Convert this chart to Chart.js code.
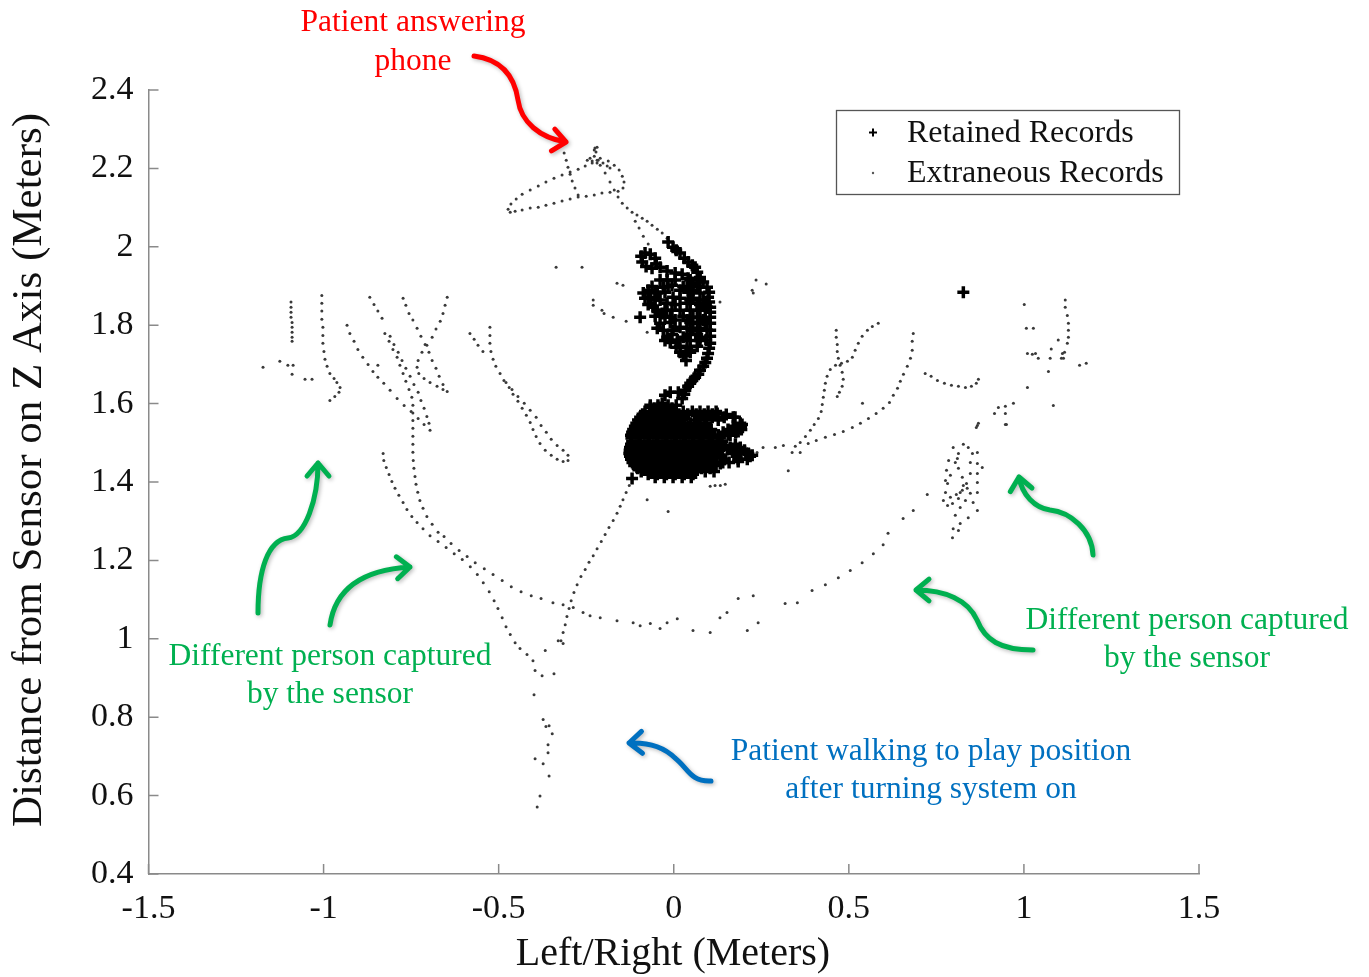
<!DOCTYPE html>
<html><head><meta charset="utf-8">
<script src="https://cdn.jsdelivr.net/npm/chart.js@4.4.0/dist/chart.umd.min.js"></script>
<style>html,body{margin:0;padding:0;background:#fff;}canvas{display:block;}</style>
</head><body>
<canvas id="c" width="1369" height="977"></canvas>
<script>
// ---------- axis ticks ----------
const xTickValues = [-1.5,-1,-0.5,0,0.5,1,1.5];
const xTickLabels = ['-1.5','-1','-0.5','0','0.5','1','1.5'];
const yTickValues = [0.4,0.6,0.8,1,1.2,1.4,1.6,1.8,2,2.2,2.4];
const yTickLabels = ['0.4','0.6','0.8','1','1.2','1.4','1.6','1.8','2','2.2','2.4'];
const seriesNames = ['Retained Records','Extraneous Records'];

// ---------- Retained Records ----------
const retainedUpper = [
[-0.016,2.012],[0.007,1.991],[-0.002,1.999],[0.018,1.984],[0.030,1.971],[0.041,1.961],[0.053,1.953],[0.061,1.948],[0.067,1.935],[0.075,1.922],[0.084,1.910],[0.095,1.897],[0.101,1.884],[0.098,1.871],[0.101,1.859],[0.104,1.846],[0.104,1.833],[0.104,1.820],[0.104,1.805],[0.104,1.787],[0.104,1.772],[0.104,1.754],[0.101,1.741],[0.098,1.728],[0.095,1.716],[0.090,1.705],[0.084,1.695],[0.075,1.685],[0.070,1.675],[0.061,1.667],[0.053,1.659],[0.047,1.652],[0.041,1.644],[0.033,1.634],[0.030,1.624],[0.024,1.613],[0.013,1.629],[-0.010,1.629],[-0.025,1.621],[-0.033,1.601],
[-0.093,1.976],[-0.082,1.984],[-0.067,1.981],[-0.053,1.971],[-0.050,1.956],[-0.062,1.945],[-0.079,1.950],[-0.090,1.961],[-0.039,1.948],[-0.019,1.938],[0.004,1.933],[0.024,1.930],[0.041,1.920],[0.055,1.907],
[-0.087,1.882],[-0.067,1.871],[-0.047,1.882],[-0.030,1.897],[-0.019,1.915],[-0.039,1.864],[-0.019,1.856],[-0.002,1.871],[0.018,1.889],[0.038,1.897],[0.055,1.889],[0.075,1.882],[-0.059,1.846],[-0.033,1.830],[-0.010,1.820],[0.018,1.838],[0.038,1.856],[0.067,1.856],[0.084,1.864],[0.095,1.846],[-0.039,1.805],[-0.030,1.787],[-0.019,1.769],[-0.002,1.787],[0.018,1.795],[0.038,1.813],[0.055,1.820],[0.075,1.820],[0.010,1.762],[0.027,1.769],[0.055,1.787],[0.075,1.769],[0.095,1.787],[0.038,1.744],[0.027,1.723],[0.035,1.710],[0.047,1.736],[0.007,1.744],[-0.010,1.756],[-0.053,1.864],[-0.073,1.889],[-0.025,1.838],[0.004,1.813],[0.047,1.838],[0.067,1.805],[-0.005,1.902],[0.047,1.864],[0.018,1.731],[0.084,1.813],[0.093,1.762]
];
// extra records filling the dense upper mass: [y, x1, x2, ...]
const retainedUpperRows = [
[1.915,-0.039,0.004,0.047,0.075],
[1.899,-0.062,-0.016,0.027,0.067],
[1.884,-0.053,-0.025,0.041],
[1.869,-0.082,0.018,0.055],
[1.853,-0.073,0.004,0.075],
[1.838,-0.047,-0.005,0.067,0.090],
[1.823,-0.053,-0.025,0.027],
[1.807,-0.010,0.047,0.090],
[1.792,-0.047,0.038,0.075],
[1.777,-0.005,0.047,0.067],
[1.761,-0.025,0.047,0.075],
[1.746,0.018,0.067],
[1.731,0.047]
];
// rows of the dense lower cluster: [y, x1, x2, ...]
const retainedLowerRows = [
[1.596,-0.067,-0.045,-0.016,0.007],
[1.588,-0.056,-0.030,-0.005],
[1.580,-0.082,-0.053,-0.030,-0.005,0.027,0.053,0.075,0.098,0.121],
[1.573,-0.089,-0.063,-0.038,-0.012,0.015,0.040,0.064,0.087,0.110],
[1.565,-0.096,-0.073,-0.047,-0.022,0.004,0.030,0.075,0.110,0.144,0.170],
[1.558,-0.102,-0.077,-0.052,-0.027,-0.001,0.024,0.060,0.092,0.127],
[1.550,-0.107,-0.082,-0.059,-0.033,-0.007,0.018,0.047,0.070,0.093,0.190],
[1.542,-0.111,-0.087,-0.063,-0.038,-0.012,0.014,0.041,0.066,0.089,0.170,0.192],
[1.534,-0.116,-0.093,-0.067,-0.042,-0.016,0.010,0.035,0.061,0.084,0.107,0.155,0.193],
[1.527,-0.119,-0.096,-0.070,-0.046,-0.020,0.005,0.031,0.057,0.080,0.104,0.141,0.177],
[1.519,-0.122,-0.099,-0.073,-0.050,-0.025,0.001,0.027,0.053,0.075,0.101,0.127,0.161],
[1.512,-0.121,-0.097,-0.072,-0.047,-0.022,0.004,0.030,0.055,0.080,0.106,0.132],
[1.504,-0.119,-0.096,-0.070,-0.045,-0.019,0.007,0.033,0.058,0.084,0.110,0.138],
[1.496,-0.122,-0.099,-0.073,-0.047,-0.022,0.004,0.030,0.056,0.081,0.107,0.136,0.176],
[1.488,-0.125,-0.102,-0.076,-0.050,-0.025,0.001,0.027,0.053,0.078,0.104,0.133,0.161,0.190],
[1.481,-0.126,-0.103,-0.078,-0.052,-0.026,0.000,0.026,0.052,0.077,0.103,0.130,0.168,0.202],
[1.473,-0.127,-0.105,-0.079,-0.053,-0.027,-0.002,0.024,0.050,0.075,0.101,0.127,0.175,0.213],
[1.466,-0.125,-0.100,-0.075,-0.049,-0.023,0.003,0.028,0.054,0.080,0.106,0.136,0.180,0.218],
[1.458,-0.122,-0.096,-0.070,-0.045,-0.019,0.007,0.033,0.058,0.084,0.110,0.144,0.184],
[1.450,-0.118,-0.092,-0.066,-0.040,-0.015,0.011,0.037,0.063,0.089,0.115,0.140],
[1.442,-0.113,-0.087,-0.062,-0.036,-0.010,0.015,0.041,0.067,0.093,0.121],
[1.435,-0.103,-0.077,-0.052,-0.026,0.000,0.025,0.051,0.079,0.104],
[1.427,-0.093,-0.067,-0.042,-0.016,0.010,0.035,0.061,0.090,0.115],
[1.420,-0.073,-0.047,-0.021,0.004,0.030,0.055],
[1.412,-0.053,-0.027,-0.002,0.024,0.050]
];
const retainedLoops = [
[0.124,1.575],[0.150,1.572],[0.175,1.565],[0.195,1.547],[0.184,1.529],[0.155,1.521],[0.127,1.519],[0.098,1.527],
[0.124,1.488],[0.153,1.483],[0.181,1.478],[0.207,1.473],[0.224,1.468],[0.210,1.458],[0.184,1.452],[0.158,1.450],[0.133,1.447],[0.107,1.445],
[-0.039,1.583],[-0.067,1.590],[-0.105,1.539],[-0.119,1.409],[-0.096,1.820],[0.827,1.884]
];

// ---------- Extraneous Records ----------
const extPhone = [
[-0.313,2.239],[-0.307,2.221],[-0.302,2.203],[-0.296,2.185],[-0.290,2.168],[-0.282,2.150],[-0.273,2.132],
[-0.210,2.226],[-0.187,2.219],[-0.170,2.208],[-0.156,2.196],[-0.147,2.180],[-0.142,2.165],[-0.145,2.150],[-0.159,2.142],[-0.182,2.139],[-0.205,2.137],[-0.227,2.132],[-0.250,2.129],[-0.273,2.127],[-0.296,2.122],[-0.319,2.117],[-0.342,2.111],[-0.365,2.106],[-0.387,2.101],[-0.410,2.099],[-0.433,2.094],[-0.453,2.091],[-0.467,2.088],[-0.473,2.096],[-0.465,2.109],[-0.450,2.122],[-0.433,2.134],[-0.410,2.145],[-0.387,2.155],[-0.365,2.165],[-0.342,2.175],[-0.319,2.183],[-0.296,2.191],[-0.273,2.198],[-0.253,2.206],[-0.233,2.214],[-0.219,2.221],
[-0.225,2.252],[-0.222,2.242],[-0.227,2.231],[-0.239,2.226],[-0.247,2.221],[-0.233,2.219],[-0.216,2.221],[-0.202,2.214],[-0.190,2.206],[-0.182,2.201],[-0.210,2.208],[-0.219,2.214],[-0.227,2.247],[-0.219,2.254],
[-0.196,2.188],[-0.182,2.165],[-0.170,2.145],[-0.159,2.127],[-0.147,2.111],[-0.133,2.099],[-0.119,2.088],[-0.105,2.081],[-0.090,2.073],[-0.076,2.065],[-0.062,2.055],[-0.047,2.045],[-0.033,2.035],[-0.019,2.022],
[-0.110,2.065],[-0.099,2.048],[-0.087,2.027],[-0.073,2.007]
];
const extScatter = [
[-0.336,1.948],[-0.262,1.948],[-0.162,1.907],[-0.145,1.902],[-0.230,1.864],[-0.230,1.851],[-0.205,1.838],[-0.199,1.830],[-0.173,1.820],[-0.136,1.810],[-0.076,1.782],[0.235,1.915],[0.264,1.905],[0.224,1.889],[0.227,1.882],[0.132,1.859],
[0.104,1.389],[0.118,1.391],[0.133,1.391],[0.147,1.394],[-0.076,1.355],[-0.016,1.325],
[0.238,1.475],[0.255,1.488],[0.290,1.488],[0.313,1.493]
];
const extLeft = [
[-1.093,1.859],[-1.093,1.846],[-1.093,1.833],[-1.093,1.820],[-1.090,1.807],[-1.090,1.795],[-1.090,1.782],[-1.090,1.769],[-1.090,1.759],
[-1.173,1.693],[-1.125,1.708],[-1.102,1.698],[-1.087,1.698],[-1.090,1.675],[-1.053,1.662],[-1.033,1.662],
[-1.005,1.876],[-1.005,1.856],[-1.005,1.836],[-1.005,1.815],[-1.002,1.795],[-1.002,1.774],[-1.002,1.754],[-0.999,1.733],[-0.996,1.713],[-0.990,1.695],[-0.982,1.677],[-0.970,1.664],[-0.962,1.654],[-0.953,1.641],[-0.956,1.629],[-0.968,1.618],[-0.982,1.608],
[-0.933,1.800],[-0.925,1.779],[-0.913,1.759],[-0.902,1.738],[-0.888,1.718],[-0.873,1.700],[-0.859,1.682],[-0.845,1.667],[-0.828,1.652],[-0.810,1.634],[-0.790,1.613],[-0.770,1.595],[-0.750,1.580],[-0.730,1.562],[-0.713,1.547],[-0.696,1.532],[-0.845,1.698],
[-0.868,1.871],[-0.856,1.853],[-0.845,1.836],[-0.833,1.818],
[-0.825,1.779],[-0.813,1.759],[-0.802,1.738],[-0.790,1.718],[-0.782,1.698],[-0.773,1.677],[-0.765,1.657],[-0.756,1.636],[-0.748,1.616],[-0.745,1.596],[-0.745,1.576],[-0.745,1.557],[-0.745,1.537],[-0.745,1.517],[-0.745,1.496],[-0.745,1.476],[-0.744,1.455],[-0.742,1.435],[-0.739,1.414],[-0.736,1.394],[-0.731,1.374],[-0.725,1.353],[-0.716,1.333],[-0.705,1.312],[-0.690,1.292],[-0.673,1.272],[-0.656,1.261],[-0.636,1.243],[-0.613,1.225],[-0.590,1.210],[-0.567,1.194],[-0.541,1.179],[-0.516,1.164],[-0.490,1.149],[-0.464,1.133],[-0.436,1.120],[-0.407,1.110],[-0.379,1.103],
[-0.810,1.772],[-0.799,1.751],[-0.787,1.731],[-0.776,1.710],[-0.765,1.690],[-0.753,1.670],[-0.742,1.649],[-0.730,1.629],[-0.722,1.608],[-0.713,1.588],[-0.705,1.567],[-0.699,1.550],
[-0.525,1.795],[-0.525,1.774],[-0.525,1.754],[-0.522,1.733],[-0.516,1.713],[-0.508,1.695],[-0.496,1.677],[-0.485,1.659],[-0.470,1.641],[-0.459,1.624],[-0.445,1.606],[-0.433,1.588],[-0.421,1.570],[-0.410,1.552],[-0.402,1.534],[-0.393,1.516],[-0.382,1.498],[-0.367,1.481],[-0.350,1.468],[-0.333,1.458],[-0.316,1.452],[-0.302,1.455],[-0.302,1.468],[-0.316,1.481],[-0.333,1.493],[-0.350,1.509],[-0.364,1.527],[-0.379,1.544],[-0.393,1.565],[-0.410,1.583],[-0.427,1.601],[-0.445,1.618],[-0.462,1.636],[-0.479,1.654],
[-0.582,1.779],[-0.570,1.764],[-0.559,1.749],[-0.545,1.733],
[-0.773,1.869],[-0.765,1.851],[-0.756,1.830],[-0.745,1.813],[-0.733,1.792],[-0.722,1.772],[-0.710,1.751],[-0.699,1.731],[-0.690,1.710],[-0.679,1.690],[-0.670,1.670],[-0.659,1.649],[-0.647,1.631],
[-0.647,1.871],[-0.653,1.851],[-0.659,1.830],[-0.667,1.810],[-0.679,1.790],[-0.690,1.769],[-0.705,1.749],[-0.719,1.731],[-0.730,1.710],[-0.733,1.693],[-0.728,1.677],[-0.713,1.664],[-0.696,1.654],[-0.676,1.644],[-0.659,1.636],
[-0.830,1.473],[-0.828,1.455],[-0.821,1.437],[-0.813,1.419],[-0.805,1.401],[-0.796,1.384],[-0.785,1.366],[-0.773,1.348],[-0.762,1.330],[-0.748,1.312],[-0.733,1.297],[-0.716,1.281],[-0.696,1.263],[-0.673,1.248],[-0.650,1.233],[-0.627,1.217],[-0.604,1.202],[-0.581,1.184],[-0.561,1.164],[-0.544,1.143],[-0.527,1.120],[-0.513,1.097],[-0.502,1.077],[-0.490,1.054],[-0.479,1.031],[-0.467,1.011],[-0.453,0.990],[-0.439,0.975],[-0.419,0.960],[-0.402,0.944]
];
const extCenter = [
[-0.127,1.391],[-0.136,1.373],[-0.145,1.355],[-0.153,1.338],[-0.162,1.320],[-0.173,1.302],[-0.185,1.284],[-0.196,1.266],[-0.207,1.248],[-0.219,1.230],[-0.230,1.212],[-0.242,1.195],[-0.253,1.177],[-0.265,1.159],[-0.276,1.138],[-0.285,1.118],[-0.293,1.097],[-0.299,1.077],[-0.305,1.057],[-0.310,1.036],[-0.316,1.016],[-0.322,0.995],
[-0.396,0.919],[-0.376,0.906],[-0.367,0.970],[-0.342,0.911],[-0.399,0.857],[-0.373,0.794],[-0.365,0.776],[-0.356,0.778],[-0.347,0.758],[-0.359,0.730],[-0.359,0.709],[-0.396,0.694],[-0.373,0.681],[-0.356,0.650],[-0.382,0.599],[-0.390,0.571],[-0.330,0.995],[-0.316,0.988],
[-0.345,1.092],[-0.316,1.087],[-0.287,1.080],[-0.259,1.067],[-0.239,1.059],[-0.210,1.054],[-0.162,1.046],[-0.116,1.041],[-0.096,1.033],[-0.067,1.039],[-0.039,1.026],[-0.019,1.041],[0.010,1.051],[0.055,1.021],[0.104,1.016],[0.132,1.054],[0.152,1.067],[0.184,1.103],[0.227,1.110],[0.210,1.021],[0.241,1.041],[0.318,1.090],[0.353,1.092],
[0.395,1.123],[0.433,1.138],[0.470,1.156],[0.504,1.174],[0.538,1.194],[0.570,1.217],[0.598,1.240],[0.612,1.269],[0.655,1.307],[0.684,1.327],[0.724,1.368],
[0.539,1.601],[0.327,1.429]
];
const extRight = [
[0.464,1.787],[0.464,1.769],[0.467,1.751],[0.467,1.733],[0.470,1.716],[0.475,1.698],[0.481,1.680],[0.484,1.662],[0.481,1.644],[0.473,1.629],[0.467,1.618],
[0.584,1.805],[0.567,1.797],[0.553,1.787],[0.538,1.772],[0.527,1.754],[0.518,1.736],[0.510,1.718],[0.496,1.708],[0.479,1.703],[0.462,1.698],[0.447,1.687],[0.438,1.670],[0.433,1.652],[0.430,1.634],[0.427,1.616],[0.424,1.598],[0.421,1.580],[0.413,1.562],[0.401,1.547],[0.390,1.532],[0.376,1.516],[0.361,1.501],[0.347,1.491],[0.338,1.475],[0.361,1.475],
[0.684,1.779],[0.681,1.759],[0.681,1.736],[0.676,1.716],[0.667,1.695],[0.656,1.675],[0.647,1.657],[0.639,1.639],[0.627,1.621],[0.616,1.603],[0.598,1.588],[0.578,1.575],[0.556,1.562],[0.533,1.550],[0.510,1.539],[0.484,1.529],[0.459,1.521],[0.433,1.514],[0.407,1.506],[0.384,1.498],
[0.718,1.677],[0.735,1.670],[0.753,1.659],[0.773,1.652],[0.793,1.647],[0.813,1.644],[0.833,1.641],[0.850,1.644],[0.864,1.652],[0.870,1.662],
[1.001,1.853],[1.118,1.864],[1.118,1.846],[1.124,1.825],[1.127,1.805],[1.127,1.787],[1.127,1.769],[1.124,1.754],[1.007,1.792],[1.027,1.792],[1.098,1.762],[1.078,1.739],[1.010,1.728],[1.024,1.726],[1.033,1.728],[1.041,1.716],[1.075,1.716],[1.107,1.716],[1.113,1.716],[1.110,1.728],[1.116,1.731],[1.159,1.698],[1.178,1.703],[1.070,1.682],[1.010,1.641],[1.084,1.595],[0.970,1.601],[0.947,1.593],[0.927,1.590],[0.916,1.575],[0.947,1.575],[0.947,1.547],[0.870,1.550],[0.864,1.539],
[0.867,1.544],[0.950,1.547],[0.798,1.488],[0.827,1.496],[0.841,1.488],[0.813,1.473],[0.853,1.473],[0.867,1.475],[0.804,1.450],[0.813,1.435],[0.847,1.450],[0.867,1.447],[0.881,1.437],[0.790,1.417],[0.824,1.412],[0.847,1.422],[0.867,1.422],[0.782,1.396],[0.827,1.391],[0.838,1.384],[0.867,1.399],[0.776,1.373],[0.818,1.373],[0.847,1.371],[0.867,1.373],[0.770,1.353],[0.796,1.345],[0.813,1.358],[0.833,1.353],[0.855,1.348],[0.782,1.340],[0.818,1.335],[0.867,1.327],[0.804,1.315],[0.841,1.309],[0.818,1.294],[0.798,1.281],[0.813,1.276],[0.796,1.258],
[0.785,1.455],[0.779,1.430],[0.776,1.404],[0.790,1.361],[0.807,1.368],[0.824,1.379],[0.836,1.396],[0.810,1.460]
];

// ---------- build datasets ----------
const SERIF = "'Liberation Serif','Times New Roman',serif";
const toPts = a => a.map(([x,y]) => ({x, y}));
const rowPts = rows => rows.flatMap(([y, ...xs]) => xs.map(x => ({x, y})));
const retainedData = [...toPts(retainedUpper), ...rowPts(retainedUpperRows), ...rowPts(retainedLowerRows), ...toPts(retainedLoops)];
const extraneousData = [...toPts(extPhone), ...toPts(extScatter), ...toPts(extLeft), ...toPts(extCenter), ...toPts(extRight)];

const AXIS_COLOR = '#8a8a8a';

const inwardTicks = {
  id: 'inwardTicks',
  afterDraw(chart) {
    const {ctx, chartArea: a, scales: {x, y}} = chart;
    ctx.save();
    ctx.strokeStyle = AXIS_COLOR; ctx.lineWidth = 1.5;
    ctx.beginPath();
    xTickValues.forEach(v => { const p = x.getPixelForValue(v); ctx.moveTo(p, a.bottom); ctx.lineTo(p, a.bottom - 10); });
    yTickValues.forEach(v => { const p = y.getPixelForValue(v); ctx.moveTo(a.left, p); ctx.lineTo(a.left + 10, p); });
    ctx.stroke();
    ctx.restore();
  }
};

function drawArrow(ctx, segs, color) {
  ctx.save();
  ctx.strokeStyle = color; ctx.lineWidth = 5; ctx.lineCap = 'round'; ctx.lineJoin = 'round';
  ctx.shadowColor = 'rgba(0,0,0,0.28)'; ctx.shadowBlur = 4; ctx.shadowOffsetX = 1.5; ctx.shadowOffsetY = 1.5;
  ctx.beginPath();
  ctx.moveTo(segs[0][0], segs[0][1]);
  for (let i = 1; i < segs.length; i += 3) ctx.bezierCurveTo(segs[i][0], segs[i][1], segs[i+1][0], segs[i+1][1], segs[i+2][0], segs[i+2][1]);
  const e = segs[segs.length-1], c = segs[segs.length-2];
  const ang = Math.atan2(e[1]-c[1], e[0]-c[0]);
  const L = 17, sp = 0.7;
  ctx.moveTo(e[0] - L*Math.cos(ang - sp), e[1] - L*Math.sin(ang - sp));
  ctx.lineTo(e[0], e[1]);
  ctx.lineTo(e[0] - L*Math.cos(ang + sp), e[1] - L*Math.sin(ang + sp));
  ctx.stroke();
  ctx.restore();
}

const annotations = {
  id: 'annotations',
  afterDraw(chart) {
    const ctx = chart.ctx;
    ctx.save();
    ctx.textAlign = 'center'; ctx.textBaseline = 'middle';
    ctx.fillStyle = '#111';
    ctx.font = `40px ${SERIF}`;
    ctx.fillText('Left/Right (Meters)', 673, 954);
    ctx.save(); ctx.translate(30, 470); ctx.rotate(-Math.PI/2);
    ctx.font = `43px ${SERIF}`;
    ctx.fillText('Distance from Sensor on Z Axis (Meters)', 0, 0);
    ctx.restore();
    ctx.font = `31.5px ${SERIF}`;
    ctx.fillStyle = '#FF0000';
    ctx.fillText('Patient answering', 413, 23); ctx.fillText('phone', 413, 62);
    ctx.fillStyle = '#00B050';
    ctx.fillText('Different person captured', 330, 657); ctx.fillText('by the sensor', 330, 695);
    ctx.fillText('Different person captured', 1187, 621); ctx.fillText('by the sensor', 1187, 659);
    ctx.fillStyle = '#0070C0';
    ctx.fillText('Patient walking to play position', 931, 752); ctx.fillText('after turning system on', 931, 790);
    ctx.restore();
    drawArrow(ctx, [[474,56],[505,60],[515,80],[518,100],[521,122],[540,138],[566,142]], '#FF0000');
    drawArrow(ctx, [[258,613],[258,570],[268,540],[288,538],[305,536],[318,500],[318,463]], '#00B050');
    drawArrow(ctx, [[330,625],[335,590],[360,570],[410,567]], '#00B050');
    drawArrow(ctx, [[1093,555],[1092,530],[1070,512],[1050,510],[1035,508],[1022,495],[1019,477]], '#00B050');
    drawArrow(ctx, [[1033,650],[1000,650],[985,640],[977,620],[968,600],[945,590],[916,590]], '#00B050');
    drawArrow(ctx, [[711,781],[690,782],[688,768],[675,758],[665,748],[650,742],[629,743]], '#0070C0');
    // legend
    ctx.save();
    ctx.fillStyle = '#fff'; ctx.fillRect(836, 110, 343, 84);
    ctx.strokeStyle = '#555'; ctx.lineWidth = 1.3; ctx.strokeRect(836.5, 110.5, 343, 84);
    ctx.strokeStyle = '#000'; ctx.lineWidth = 2; ctx.beginPath();
    ctx.moveTo(869, 132.5); ctx.lineTo(877, 132.5); ctx.moveTo(873, 128.5); ctx.lineTo(873, 136.5); ctx.stroke();
    ctx.fillStyle = '#555'; ctx.beginPath(); ctx.arc(873, 173, 1.2, 0, Math.PI*2); ctx.fill();
    ctx.fillStyle = '#111'; ctx.font = `32px ${SERIF}`; ctx.textAlign = 'left'; ctx.textBaseline = 'middle';
    ctx.fillText(seriesNames[0], 907, 134); ctx.fillText(seriesNames[1], 907, 174);
    ctx.restore();
  }
};

new Chart(document.getElementById('c'), {
  type: 'scatter',
  data: {
    datasets: [
      { label: seriesNames[0], data: retainedData, pointStyle: 'cross', radius: 6, borderWidth: 3.5, borderColor: '#000', backgroundColor: '#000' },
      { label: seriesNames[1], data: extraneousData, pointStyle: 'circle', radius: 1.5, borderWidth: 0, backgroundColor: '#3a3a3a' }
    ]
  },
  options: {
    responsive: false, animation: false, devicePixelRatio: 1,
    layout: { padding: { left: 0, top: 90, right: 170, bottom: 0 } },
    plugins: { legend: { display: false }, tooltip: { enabled: false } },
    scales: {
      x: {
        type: 'linear', min: -1.5, max: 1.5,
        afterBuildTicks: s => { s.ticks = xTickValues.map(v => ({value: v})); },
        afterFit: s => { s.height = 103; },
        grid: { display: false, drawTicks: false },
        border: { display: true, color: AXIS_COLOR, width: 1.5 },
        ticks: { padding: 15, color: '#111', font: { family: SERIF, size: 34 }, maxRotation: 0,
                 callback: (v, i) => xTickLabels[i] }
      },
      y: {
        type: 'linear', min: 0.4, max: 2.4,
        afterBuildTicks: s => { s.ticks = yTickValues.map(v => ({value: v})); },
        afterFit: s => { s.width = 148.5; },
        grid: { display: false, drawTicks: false },
        border: { display: true, color: AXIS_COLOR, width: 1.5 },
        ticks: { padding: 15, color: '#111', font: { family: SERIF, size: 34 },
                 callback: (v, i) => yTickLabels[i] }
      }
    }
  },
  plugins: [inwardTicks, annotations]
});
</script>
</body></html>
